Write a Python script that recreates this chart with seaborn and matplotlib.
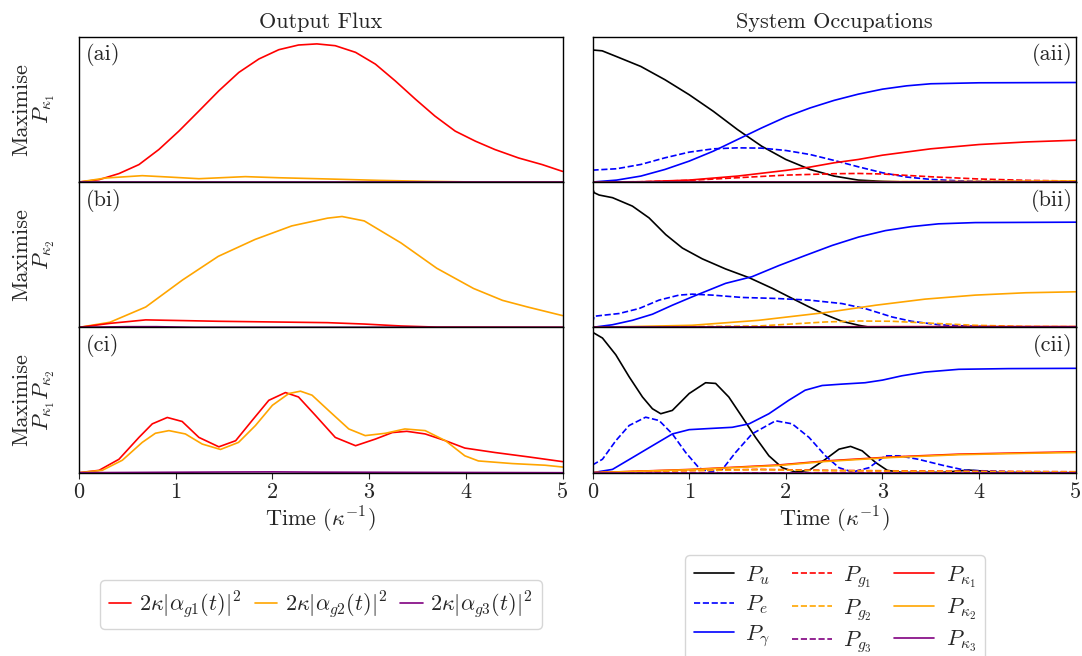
import numpy as np
import pandas as pd
import matplotlib
matplotlib.use("Agg")
import matplotlib.pyplot as plt
from matplotlib.lines import Line2D
import seaborn as sns

# ---------------- data ----------------
# Left column: output flux (arbitrary units)
ai_k1_t = [0, 0.207, 0.413, 0.62, 0.826, 1.033, 1.24, 1.446, 1.653, 1.86, 2.066, 2.27, 2.46, 2.65, 2.86, 3.065, 3.27, 3.48, 3.68, 3.89, 4.1, 4.3, 4.545, 4.79, 5.0]
ai_k1_v = [0, 0.017, 0.061, 0.126, 0.235, 0.368, 0.513, 0.659, 0.792, 0.889, 0.956, 0.99, 0.998, 0.985, 0.937, 0.852, 0.731, 0.598, 0.477, 0.368, 0.295, 0.235, 0.174, 0.126, 0.077]
ai_k2_t = [0, 0.275, 0.654, 0.93, 1.24, 1.72, 2.066, 2.58, 3.1, 3.6, 4.13, 5.0]
ai_k2_v = [0, 0.029, 0.046, 0.036, 0.024, 0.039, 0.031, 0.022, 0.012, 0.005, 0, 0]
ai_k3_t = [0, 5.0]
ai_k3_v = [0, 0]

bi_k1_t = [0, 0.32, 0.69, 1.44, 2.57, 2.95, 3.33, 3.7, 5.0]
bi_k1_v = [0, 0.029, 0.054, 0.044, 0.034, 0.024, 0.01, 0.002, 0]
bi_k2_t = [0, 0.32, 0.69, 1.07, 1.44, 1.82, 2.2, 2.57, 2.72, 2.95, 3.33, 3.7, 4.08, 4.38, 4.64, 5.0]
bi_k2_v = [0, 0.037, 0.147, 0.342, 0.513, 0.635, 0.733, 0.789, 0.801, 0.769, 0.61, 0.427, 0.281, 0.195, 0.147, 0.085]
bi_k3_t = [0, 0.5, 0.8, 1.2, 5.0]
bi_k3_v = [0, 0.005, 0.005, 0, 0]

ci_k1_t = [0, 0.207, 0.413, 0.62, 0.758, 0.913, 1.067, 1.24, 1.446, 1.62, 1.79, 1.963, 2.135, 2.27, 2.445, 2.65, 2.86, 3.065, 3.24, 3.39, 3.58, 3.79, 3.99, 4.3, 4.65, 5.0]
ci_k1_v = [0, 0.017, 0.097, 0.255, 0.353, 0.399, 0.37, 0.255, 0.187, 0.231, 0.377, 0.523, 0.579, 0.547, 0.414, 0.255, 0.195, 0.243, 0.29, 0.299, 0.28, 0.231, 0.178, 0.146, 0.114, 0.08]
ci_k2_t = [0, 0.24, 0.448, 0.654, 0.79, 0.93, 1.1, 1.274, 1.463, 1.65, 1.825, 2.0, 2.17, 2.29, 2.41, 2.58, 2.79, 2.96, 3.17, 3.37, 3.58, 3.79, 3.99, 4.13, 4.48, 4.82, 5.0]
ci_k2_v = [0, 0.017, 0.09, 0.219, 0.285, 0.304, 0.28, 0.207, 0.168, 0.219, 0.341, 0.487, 0.572, 0.589, 0.56, 0.45, 0.316, 0.268, 0.285, 0.316, 0.304, 0.231, 0.122, 0.085, 0.066, 0.054, 0.041]
ci_k3_t = [0, 1.5, 2.0, 2.5, 5.0]
ci_k3_v = [0, 0.005, 0.006, 0.004, 0]

# Right column: system occupations
aii_u_t = [0, 0.1, 0.25, 0.5, 0.75, 1.0, 1.25, 1.5, 1.75, 2.0, 2.25, 2.5, 2.75, 3.0, 3.25, 5.0]
aii_u_v = [0.954, 0.948, 0.906, 0.835, 0.739, 0.631, 0.511, 0.379, 0.259, 0.163, 0.091, 0.043, 0.014, 0.005, 0, 0]
aii_e_t = [0, 0.25, 0.5, 0.75, 1.0, 1.25, 1.5, 1.75, 2.0, 2.25, 2.5, 2.75, 3.0, 3.25, 3.5, 3.75, 4.0, 5.0]
aii_e_v = [0.086, 0.096, 0.127, 0.175, 0.216, 0.24, 0.247, 0.245, 0.228, 0.199, 0.156, 0.11, 0.067, 0.036, 0.019, 0.01, 0.005, 0]
aii_g_t = [0, 0.25, 0.5, 0.75, 1.0, 1.25, 1.5, 1.75, 2.0, 2.25, 2.5, 2.75, 3.0, 3.25, 3.5, 4.0, 5.0]
aii_g_v = [0, 0.014, 0.043, 0.091, 0.151, 0.223, 0.307, 0.391, 0.47, 0.535, 0.59, 0.635, 0.671, 0.695, 0.71, 0.717, 0.719]
aii_g1_t = [0, 0.5, 1.0, 1.5, 2.0, 2.5, 2.75, 3.0, 3.5, 4.0, 4.5, 5.0]
aii_g1_v = [0, 0.002, 0.012, 0.031, 0.05, 0.06, 0.062, 0.058, 0.038, 0.022, 0.012, 0.007]
aii_g2_t = [0, 2.0, 3.0, 5.0]
aii_g2_v = [0, 0.001, 0.002, 0.003]
aii_g3_t = [0, 5.0]
aii_g3_v = [0, 0]
aii_k1_t = [0, 0.5, 1.0, 1.5, 2.0, 2.25, 2.5, 2.75, 3.0, 3.5, 4.0, 4.5, 5.0]
aii_k1_v = [0, 0.002, 0.014, 0.043, 0.084, 0.108, 0.139, 0.163, 0.194, 0.24, 0.271, 0.29, 0.302]
aii_k2_t = [0, 2.0, 3.0, 4.0, 5.0]
aii_k2_v = [0, 0.001, 0.003, 0.005, 0.008]
aii_k3_t = [0, 5.0]
aii_k3_v = [0, 0]

bii_u_t = [0, 0.017, 0.069, 0.207, 0.413, 0.585, 0.758, 0.93, 1.136, 1.377, 1.62, 1.86, 2.066, 2.24, 2.41, 2.58, 2.755, 2.86, 5.0]
bii_u_v = [1.005, 0.973, 0.956, 0.937, 0.876, 0.791, 0.67, 0.573, 0.495, 0.422, 0.359, 0.282, 0.209, 0.148, 0.092, 0.044, 0.015, 0.002, 0]
bii_e_t = [0, 0.017, 0.103, 0.275, 0.482, 0.689, 0.895, 1.033, 1.24, 1.55, 1.894, 2.24, 2.58, 2.82, 3.1, 3.3, 3.58, 3.86, 4.3, 5.0]
bii_e_v = [0.03, 0.08, 0.087, 0.1, 0.136, 0.197, 0.233, 0.24, 0.233, 0.216, 0.209, 0.197, 0.172, 0.136, 0.075, 0.044, 0.019, 0.01, 0.002, 0]
bii_g_t = [0, 0.207, 0.413, 0.62, 0.826, 1.033, 1.377, 1.65, 1.93, 2.2, 2.48, 2.755, 3.03, 3.3, 3.58, 3.96, 5.0]
bii_g_v = [0, 0.019, 0.051, 0.095, 0.16, 0.221, 0.318, 0.366, 0.447, 0.519, 0.592, 0.653, 0.699, 0.728, 0.748, 0.757, 0.76]
bii_g1_t = [0, 5.0]
bii_g1_v = [0, 0.002]
bii_g2_t = [0, 1.72, 2.41, 2.755, 3.1, 3.44, 3.96, 4.48, 5.0]
bii_g2_v = [0, 0.01, 0.039, 0.046, 0.044, 0.032, 0.015, 0.007, 0.005]
bii_g3_t = [0, 5.0]
bii_g3_v = [0, 0]
bii_k1_t = [0, 2.0, 2.8, 4.0, 5.0]
bii_k1_v = [0, 0.002, 0.005, 0.006, 0.006]
bii_k2_t = [0, 1.03, 1.72, 2.41, 2.93, 3.44, 3.96, 4.48, 5.0]
bii_k2_v = [0, 0.015, 0.051, 0.107, 0.16, 0.204, 0.233, 0.25, 0.257]
bii_k3_t = [0, 5.0]
bii_k3_v = [0, 0]

cii_u_t = [0, 0.103, 0.241, 0.379, 0.517, 0.62, 0.706, 0.826, 1.0, 1.17, 1.274, 1.41, 1.55, 1.687, 1.825, 1.963, 2.1, 2.24, 2.41, 2.55, 2.67, 2.79, 2.93, 3.05, 3.2, 3.62, 3.89, 4.03, 4.2, 5.0]
cii_u_v = [1.015, 0.973, 0.852, 0.693, 0.547, 0.462, 0.426, 0.45, 0.572, 0.65, 0.645, 0.547, 0.401, 0.255, 0.122, 0.036, 0.005, 0.017, 0.097, 0.17, 0.19, 0.158, 0.073, 0.017, 0.002, 0.002, 0.019, 0.012, 0.002, 0]
cii_e_t = [0, 0.103, 0.241, 0.379, 0.55, 0.689, 0.826, 0.964, 1.1, 1.205, 1.343, 1.48, 1.65, 1.894, 2.066, 2.24, 2.41, 2.55, 2.69, 2.86, 3.03, 3.17, 3.37, 3.62, 3.86, 4.13, 4.48, 5.0]
cii_e_v = [0.056, 0.097, 0.231, 0.341, 0.401, 0.377, 0.28, 0.146, 0.036, 0.005, 0.024, 0.146, 0.28, 0.375, 0.353, 0.255, 0.122, 0.036, 0.005, 0.036, 0.122, 0.122, 0.097, 0.054, 0.017, 0.012, 0.002, 0]
cii_g_t = [0, 0.207, 0.413, 0.62, 0.826, 1.0, 1.205, 1.446, 1.62, 1.825, 2.03, 2.2, 2.376, 2.58, 2.82, 3.0, 3.2, 3.44, 3.79, 4.3, 5.0]
cii_g_v = [0, 0.024, 0.109, 0.195, 0.28, 0.311, 0.319, 0.328, 0.353, 0.426, 0.523, 0.596, 0.63, 0.64, 0.65, 0.669, 0.7, 0.727, 0.747, 0.752, 0.754]
cii_g1_t = [0, 0.69, 1.72, 2.41, 3.44, 5.0]
cii_g1_v = [0, 0.012, 0.024, 0.017, 0.012, 0.007]
cii_g2_t = [0, 0.69, 1.72, 2.41, 3.44, 5.0]
cii_g2_v = [0, 0.011, 0.022, 0.015, 0.01, 0.005]
cii_g3_t = [0, 5.0]
cii_g3_v = [0, 0]
cii_k1_t = [0, 1.03, 1.93, 2.41, 3.1, 3.79, 4.48, 5.0]
cii_k1_v = [0, 0.024, 0.056, 0.085, 0.114, 0.134, 0.144, 0.151]
cii_k2_t = [0, 1.03, 1.93, 2.41, 3.1, 3.79, 4.48, 5.0]
cii_k2_v = [0, 0.022, 0.052, 0.081, 0.11, 0.13, 0.14, 0.146]
cii_k3_t = [0, 5.0]
cii_k3_v = [0, 0]

x_ticks = [0, 1, 2, 3, 4, 5]
col_titles = ["Output Flux", "System Occupations"]
row_labels = ["Maximise\n$P_{\\kappa_1}$", "Maximise\n$P_{\\kappa_2}$", "Maximise\n$P_{\\kappa_1}P_{\\kappa_2}$"]
left_tags = ["(ai)", "(bi)", "(ci)"]
right_tags = ["(aii)", "(bii)", "(cii)"]
flux_labels = ["$2\\kappa|\\alpha_{g1}(t)|^2$", "$2\\kappa|\\alpha_{g2}(t)|^2$", "$2\\kappa|\\alpha_{g3}(t)|^2$"]
occ_labels = ["$P_u$", "$P_e$", "$P_\\gamma$", "$P_{g_1}$", "$P_{g_2}$", "$P_{g_3}$",
              "$P_{\\kappa_1}$", "$P_{\\kappa_2}$", "$P_{\\kappa_3}$"]

# ---------------- style ----------------
sns.set_theme(style="ticks")
plt.rcParams.update({
    "font.family": "serif",
    "font.serif": ["cmr10"],
    "mathtext.fontset": "cm",
    "axes.formatter.use_mathtext": True,
    "axes.edgecolor": "black",
    "axes.linewidth": 1.0,
    "font.size": 16,
})

fig = plt.figure(figsize=(10.82, 6.56), dpi=100)
L1, R1 = 79 / 1082, 562.5 / 1082
L2, R2 = 592.5 / 1082, 1075.8 / 1082
TOP, BOT = 1 - 36.7 / 656, 1 - 472.7 / 656
h = (TOP - BOT) / 3
axes = []
for r in range(3):
    y0 = TOP - (r + 1) * h
    axl = fig.add_axes([L1, y0, R1 - L1, h])
    axr = fig.add_axes([L2, y0, R2 - L2, h])
    axes.append((axl, axr))

LW = 1.2
C_K1, C_K2, C_K3 = "red", "orange", "purple"

def draw(ax, t, v, color, ls="-"):
    df = pd.DataFrame({"t": t, "v": v})
    sns.lineplot(data=df, x="t", y="v", ax=ax, color=color, linestyle=ls,
                 linewidth=LW, sort=False, estimator=None, legend=False)

left_data = [
    [(ai_k1_t, ai_k1_v, C_K1), (ai_k2_t, ai_k2_v, C_K2), (ai_k3_t, ai_k3_v, C_K3)],
    [(bi_k2_t, bi_k2_v, C_K2), (bi_k1_t, bi_k1_v, C_K1), (bi_k3_t, bi_k3_v, C_K3)],
    [(ci_k1_t, ci_k1_v, C_K1), (ci_k2_t, ci_k2_v, C_K2), (ci_k3_t, ci_k3_v, C_K3)],
]
right_data = [
    [(aii_u_t, aii_u_v, "black", "-"), (aii_e_t, aii_e_v, "blue", "--"), (aii_g_t, aii_g_v, "blue", "-"),
     (aii_g1_t, aii_g1_v, C_K1, "--"), (aii_g2_t, aii_g2_v, C_K2, "--"), (aii_g3_t, aii_g3_v, C_K3, "--"),
     (aii_k1_t, aii_k1_v, C_K1, "-"), (aii_k2_t, aii_k2_v, C_K2, "-"), (aii_k3_t, aii_k3_v, C_K3, "-")],
    [(bii_u_t, bii_u_v, "black", "-"), (bii_e_t, bii_e_v, "blue", "--"), (bii_g_t, bii_g_v, "blue", "-"),
     (bii_g1_t, bii_g1_v, C_K1, "--"), (bii_g2_t, bii_g2_v, C_K2, "--"), (bii_g3_t, bii_g3_v, C_K3, "--"),
     (bii_k1_t, bii_k1_v, C_K1, "-"), (bii_k2_t, bii_k2_v, C_K2, "-"), (bii_k3_t, bii_k3_v, C_K3, "-")],
    [(cii_u_t, cii_u_v, "black", "-"), (cii_e_t, cii_e_v, "blue", "--"), (cii_g_t, cii_g_v, "blue", "-"),
     (cii_g1_t, cii_g1_v, C_K1, "--"), (cii_g2_t, cii_g2_v, C_K2, "--"), (cii_g3_t, cii_g3_v, C_K3, "--"),
     (cii_k1_t, cii_k1_v, C_K1, "-"), (cii_k2_t, cii_k2_v, C_K2, "-"), (cii_k3_t, cii_k3_v, C_K3, "-")],
]

for r in range(3):
    axl, axr = axes[r]
    for t, v, c in left_data[r]:
        draw(axl, t, v, c)
    for t, v, c, ls in right_data[r]:
        draw(axr, t, v, c, ls)
    for ax in (axl, axr):
        ax.set_xlim(0, 5)
        ax.set_ylim(0, 1.05)
        ax.set_yticks([])
        ax.set_ylabel("")
        ax.set_xlabel("")
        for s in ax.spines.values():
            s.set_visible(True)
            s.set_color("black")
        if r < 2:
            ax.set_xticks([])
        else:
            ax.set_xticks(x_ticks)
            ax.set_xticklabels([str(x) for x in x_ticks], fontsize=16)
            ax.tick_params(axis="x", direction="out", length=4, width=0.8, pad=3)
            ax.set_xlabel("Time ($\\kappa^{-1}$)", fontsize=16, labelpad=2)
    axl.set_ylabel(row_labels[r], fontsize=16, labelpad=16, linespacing=1.0)
    axl.text(0.015, 0.955, left_tags[r], transform=axl.transAxes, ha="left", va="top", fontsize=16)
    axr.text(0.993, 0.955, right_tags[r], transform=axr.transAxes, ha="right", va="top", fontsize=16)

axes[0][0].set_title(col_titles[0], fontsize=16, pad=6)
axes[0][1].set_title(col_titles[1], fontsize=16, pad=6)

# legends
flux_handles = [Line2D([], [], color=c, lw=LW) for c in (C_K1, C_K2, C_K3)]
fig.legend(flux_handles, flux_labels, loc="center", bbox_to_anchor=(321 / 1082, 1 - 604.5 / 656),
           ncol=3, fontsize=16, handlelength=1.0, handletextpad=0.35, columnspacing=0.6,
           frameon=True, fancybox=True, edgecolor="#cccccc", borderpad=0.4)

occ_styles = [("black", "-"), ("blue", "--"), ("blue", "-"),
              (C_K1, "--"), (C_K2, "--"), (C_K3, "--"),
              (C_K1, "-"), (C_K2, "-"), (C_K3, "-")]
occ_handles = [Line2D([], [], color=c, ls=ls, lw=LW) for c, ls in occ_styles]
fig.legend(occ_handles, occ_labels, loc="upper center", bbox_to_anchor=(835 / 1082, 1 - 544 / 656),
           ncol=3, fontsize=16, handlelength=1.8, handletextpad=0.5, columnspacing=1.0,
           labelspacing=0.3, frameon=True, fancybox=True, edgecolor="#cccccc", borderpad=0.4)

fig.savefig("out.png", dpi=100)
